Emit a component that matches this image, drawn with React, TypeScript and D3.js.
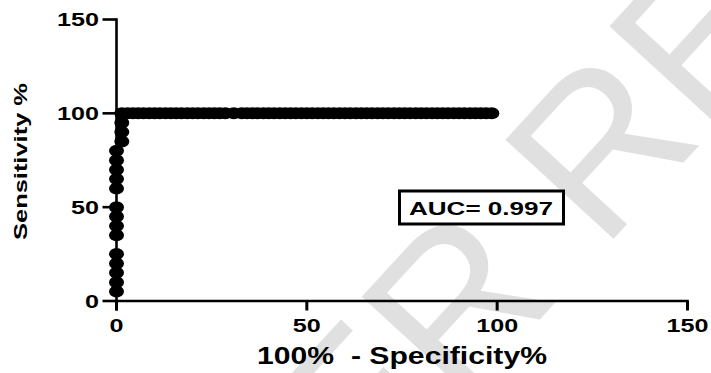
import React, { useEffect, useRef } from 'react';
import * as d3 from 'd3';

const W = 711;
const H = 373;

// Rising part of the ROC curve: 100% - specificity (%) and sensitivity (%)
const risingFpr = [0, 0, 0, 0, 0, 0, 0, 0, 0, 0, 0, 0, 0, 0, 1.4, 1.4, 1.4];
const risingSens = [5, 10, 15, 20, 25, 35, 40, 45, 50, 60, 65, 70, 75, 80, 85, 90, 95];

// Plateau at full sensitivity: 100% - specificity (%) of each threshold
const plateauSens = 100;
const plateauFpr = [
  1.4, 2.9, 4.3, 5.7, 7.1, 8.6, 10.0, 11.4, 12.9, 14.3, 15.7, 17.1, 18.6, 20.0,
  21.4, 22.9, 24.3, 25.7, 27.1, 28.6, 30.8, 32.9, 34.3, 35.7, 37.1, 38.6, 40.0,
  41.4, 42.9, 44.3, 45.7, 47.1, 48.6, 50.0, 51.4, 52.9, 54.3, 55.7, 57.1, 58.6,
  60.0, 61.4, 62.9, 64.3, 65.7, 67.1, 68.6, 70.0, 71.4, 72.9, 74.3, 75.7, 77.1,
  78.6, 80.0, 81.4, 82.9, 84.3, 85.7, 87.1, 88.6, 90.0, 91.4, 92.9, 94.3, 95.7,
  97.1, 98.6,
];

const xTicks = [0, 50, 100, 150];
const yTicks = [0, 50, 100, 150];

const xTitle = '100%  - Specificity%';
const yTitle = 'Sensitivity %';
const aucLabel = 'AUC= 0.997';
const watermark = 'PEER REVIEW';

const FONT = '"Liberation Sans", Arial, Helvetica, sans-serif';

// widths of the (wide-set) tick labels by number of digits
const tickLabelWidth: Record<number, number> = { 1: 14, 2: 28, 3: 42 };

export default function App() {
  const ref = useRef<SVGSVGElement>(null);

  useEffect(() => {
    const svg = d3.select(ref.current);
    svg.selectAll('*').remove();

    const x = d3.scaleLinear().domain([0, 150]).range([116.5, 687.5]);
    const y = d3.scaleLinear().domain([0, 150]).range([301, 19.5]);

    // faint diagonal watermark behind the plot
    svg
      .append('text')
      .attr('transform', 'translate(170,723) rotate(-47.5)')
      .attr('font-family', FONT)
      .attr('font-size', 213)
      .attr('fill', '#e0e0e0')
      .text(watermark);

    // axes
    const axes = svg
      .append('g')
      .attr('stroke', '#000')
      .attr('stroke-width', 2.6)
      .attr('fill', 'none');

    axes
      .append('line')
      .attr('x1', x(0))
      .attr('x2', x(0))
      .attr('y1', y(150) - 1.3)
      .attr('y2', y(0) + 9.5);
    axes
      .append('line')
      .attr('x1', x(0))
      .attr('x2', x(150) + 1.3)
      .attr('y1', y(0))
      .attr('y2', y(0));

    yTicks.forEach((t) => {
      axes
        .append('line')
        .attr('x1', x(0) - 14)
        .attr('x2', x(0))
        .attr('y1', y(t))
        .attr('y2', y(t));
    });
    xTicks.forEach((t) => {
      axes
        .append('line')
        .attr('x1', x(t))
        .attr('x2', x(t))
        .attr('y1', y(0))
        .attr('y2', y(0) + 9.5)
        .attr('stroke-width', 3);
    });

    // tick labels
    const labels = svg
      .append('g')
      .attr('font-family', FONT)
      .attr('font-weight', 'bold')
      .attr('fill', '#000');

    yTicks.forEach((t) => {
      const s = String(t);
      const w = tickLabelWidth[s.length];
      labels
        .append('text')
        .attr('x', 99 - w)
        .attr('y', y(t) + 6.5)
        .attr('font-size', 18)
        .attr('textLength', w)
        .attr('lengthAdjust', 'spacingAndGlyphs')
        .text(s);
    });
    xTicks.forEach((t) => {
      const s = String(t);
      const w = tickLabelWidth[s.length];
      labels
        .append('text')
        .attr('x', x(t) - w / 2)
        .attr('y', 332)
        .attr('font-size', 18)
        .attr('textLength', w)
        .attr('lengthAdjust', 'spacingAndGlyphs')
        .text(s);
    });

    // axis titles
    labels
      .append('text')
      .attr('x', 257)
      .attr('y', 364)
      .attr('font-size', 24)
      .attr('textLength', 290)
      .attr('lengthAdjust', 'spacingAndGlyphs')
      .style('white-space', 'pre')
      .text(xTitle);

    labels
      .append('text')
      .attr('transform', 'translate(27,240) rotate(-90)')
      .attr('x', 0)
      .attr('y', 0)
      .attr('font-size', 18)
      .attr('textLength', 157)
      .attr('lengthAdjust', 'spacingAndGlyphs')
      .text(yTitle);

    // ROC points
    const points: [number, number][] = [
      ...risingFpr.map((f, i) => [f, risingSens[i]] as [number, number]),
      ...plateauFpr.map((f) => [f, plateauSens] as [number, number]),
    ];
    svg
      .append('g')
      .selectAll('ellipse')
      .data(points)
      .join('ellipse')
      .attr('cx', (d) => x(d[0]))
      .attr('cy', (d) => y(d[1]))
      .attr('rx', 7.5)
      .attr('ry', 6)
      .attr('fill', '#000');

    // AUC annotation box
    const box = svg.append('g');
    box
      .append('rect')
      .attr('x', 399.5)
      .attr('y', 191)
      .attr('width', 164)
      .attr('height', 33)
      .attr('fill', '#fff')
      .attr('stroke', '#000')
      .attr('stroke-width', 3);
    box
      .append('text')
      .attr('x', 409)
      .attr('y', 215)
      .attr('font-family', FONT)
      .attr('font-weight', 'bold')
      .attr('font-size', 18)
      .attr('textLength', 144)
      .attr('lengthAdjust', 'spacingAndGlyphs')
      .text(aucLabel);
  }, []);

  return (
    <svg
      ref={ref}
      width={W}
      height={H}
      style={{ position: 'absolute', left: 0, top: 0, background: '#fff' }}
    />
  );
}
